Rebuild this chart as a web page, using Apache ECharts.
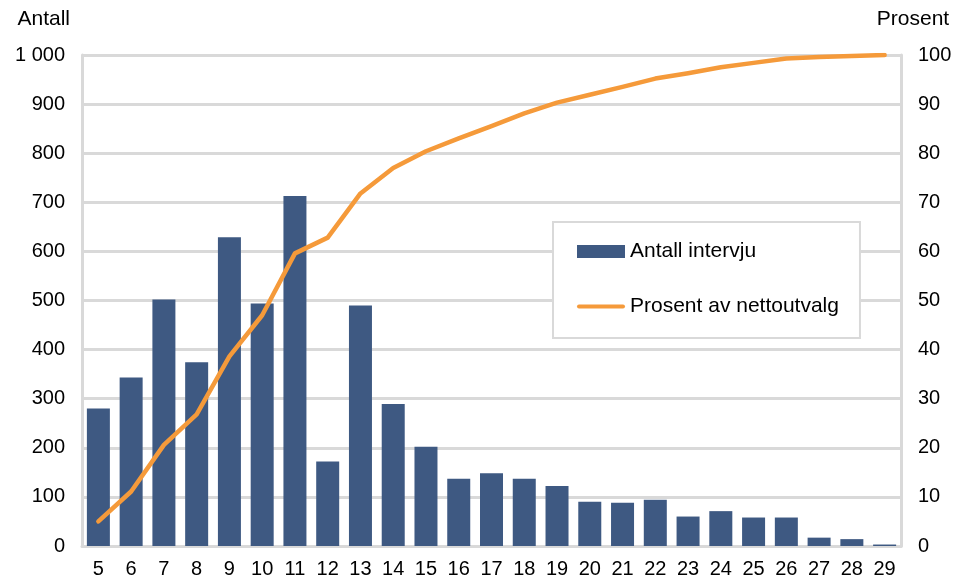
<!DOCTYPE html>
<html>
<head>
<meta charset="utf-8">
<script src="https://cdn.jsdelivr.net/npm/echarts@6/dist/echarts.min.js"></script>
<style>html,body{margin:0;padding:0;background:#fff}#c{width:963px;height:579px}</style>
</head>
<body>
<div id="c"></div>
<script>
const categories = ['5','6','7','8','9','10','11','12','13','14','15','16','17','18','19','20','21','22','23','24','25','26','27','28','29'];
const antallIntervju = [280,343,502,374,629,494,713,172,490,289,202,137,148,137,122,90,88,94,60,71,58,58,17,14,3];
const prosentNettoutvalg = [5.0,11.1,20.6,26.8,38.6,47.0,59.6,62.8,71.8,77.0,80.4,83.0,85.5,88.1,90.3,91.9,93.5,95.2,96.3,97.5,98.4,99.3,99.6,99.8,100];
const leftTicks = {min:0, max:1000, interval:100};
const rightTicks = {min:0, max:100, interval:10};

const font = '"Liberation Sans", Arial, sans-serif';
const gridColor = '#d9d9d9';
const chart = echarts.init(document.getElementById('c'));
chart.setOption({
  animation:false,
  textStyle:{fontFamily:font, color:'#000'},
  grid:{left:82, right:62, top:55, bottom:33, containLabel:false},
  legend:{
    orient:'vertical', left:553, top:222,
    padding:[19,21,21,24],
    borderColor:gridColor, borderWidth:2, backgroundColor:'#fff',
    itemWidth:48, itemHeight:13, itemGap:34,
    textStyle:{fontSize:21, color:'#000', fontFamily:font},
    data:[
      {name:'Antall intervju', icon:'rect'},
      {name:'Prosent av nettoutvalg', icon:'path://M2,0 H46 A2,2 0 0 1 46,4 H2 A2,2 0 0 1 2,0 Z'}
    ]
  },
  xAxis:{
    type:'category', data:categories,
    axisLine:{show:true, lineStyle:{color:gridColor, width:3}},
    axisTick:{show:false},
    axisLabel:{fontSize:20, color:'#000', margin:13, interval:0}
  },
  yAxis:[
    {
      type:'value', min:leftTicks.min, max:leftTicks.max, interval:leftTicks.interval,
      name:'Antall', nameLocation:'end', nameGap:25,
      nameTextStyle:{fontSize:21, color:'#000', align:'right', padding:[0,12,0,0]},
      axisLine:{show:true, lineStyle:{color:gridColor, width:3}},
      axisTick:{show:false},
      splitLine:{show:true, lineStyle:{color:gridColor, width:3}},
      axisLabel:{fontSize:20, color:'#000', margin:17,
        formatter:v => String(v).replace(/\B(?=(\d{3})+(?!\d))/g, ' ')}
    },
    {
      type:'value', min:rightTicks.min, max:rightTicks.max, interval:rightTicks.interval,
      name:'Prosent', nameLocation:'end', nameGap:25,
      nameTextStyle:{fontSize:21, color:'#000', align:'center', padding:[0,0,0,24]},
      axisLine:{show:true, lineStyle:{color:gridColor, width:3}},
      axisTick:{show:false},
      splitLine:{show:false},
      axisLabel:{fontSize:20, color:'#000', margin:17}
    }
  ],
  series:[
    {
      name:'Antall intervju', type:'bar', yAxisIndex:0,
      data:antallIntervju, barWidth:23,
      itemStyle:{color:'#3E5982'}
    },
    {
      name:'Prosent av nettoutvalg', type:'line', yAxisIndex:1,
      data:prosentNettoutvalg, symbol:'none',
      lineStyle:{color:'#F59A3A', width:4.5, cap:'round', join:'round'},
      itemStyle:{color:'#F59A3A'}
    }
  ]
});
</script>
</body>
</html>
